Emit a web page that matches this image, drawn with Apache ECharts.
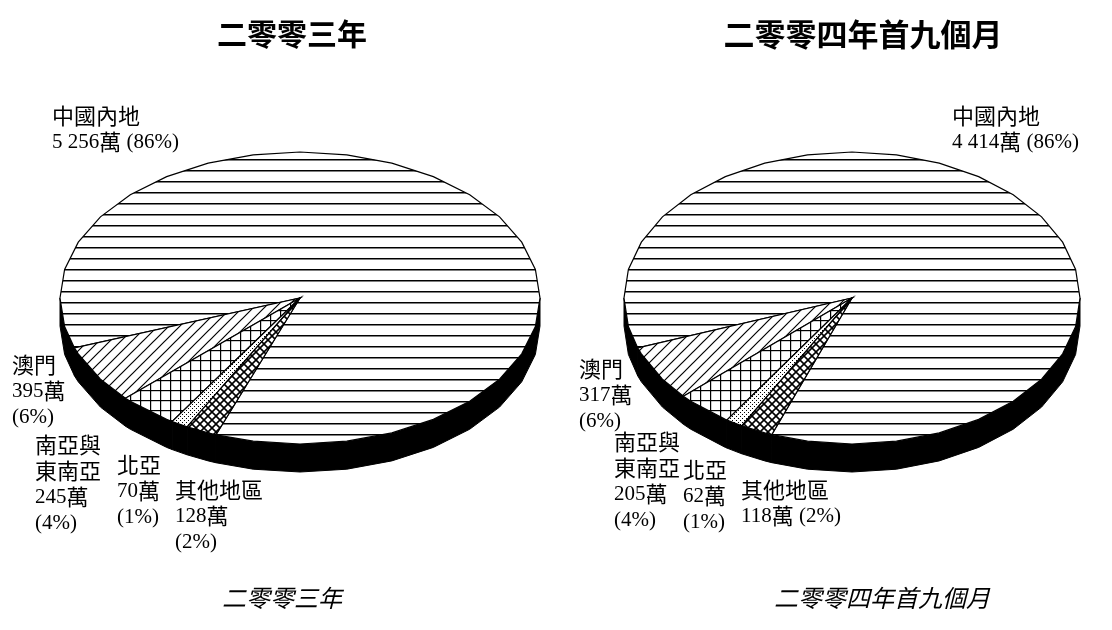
<!DOCTYPE html>
<html>
<head>
<meta charset="utf-8">
<script src="https://cdn.jsdelivr.net/npm/echarts@6/dist/echarts.min.js"></script>
<style>
  html, body { margin: 0; padding: 0; background: #fff; }
  #chart { width: 1112px; height: 630px; }
</style>
</head>
<body>
<div id="chart"></div>
<script>
// Visitor arrivals by source region (unit: 萬)
const regions = ['中國內地', '澳門', '南亞與東南亞', '北亞', '其他地區'];
const arrivals2003 = [5256, 395, 245, 70, 128];
const arrivals2004 = [4414, 317, 205, 62, 118];
const periodTitles = ['二零零三年', '二零零四年首九個月'];

// ---- layout ----
const CJK = '"Noto Sans CJK TC", "Noto Sans CJK SC", sans-serif';
const SERIF = '"Liberation Serif", "DejaVu Serif", serif';

const pieGeo = [
  { cx: 300, cy: 298, rx: 240, ry: 146, depth: 28, anchor: 160 },
  { cx: 852, cy: 298, rx: 228, ry: 146, depth: 28, anchor: 160 }
];

// label box per slice: top-left position, where the name wraps, whether the
// percentage shares the value line
const labelLayout = [
  [
    { x: 52, y: 103, wrap: 0, pctInline: true },
    { x: 12, y: 352, wrap: 0, pctInline: false },
    { x: 35, y: 432, wrap: 3, pctInline: false },
    { x: 117, y: 452, wrap: 0, pctInline: false },
    { x: 175, y: 477, wrap: 0, pctInline: false }
  ],
  [
    { x: 952, y: 103, wrap: 0, pctInline: true },
    { x: 579, y: 356, wrap: 0, pctInline: false },
    { x: 614, y: 429, wrap: 3, pctInline: false },
    { x: 683, y: 457, wrap: 0, pctInline: false },
    { x: 741, y: 477, wrap: 0, pctInline: true }
  ]
];

// ---- fill patterns ----
function tile(w, h, draw) {
  const c = document.createElement('canvas');
  c.width = w; c.height = h;
  const g = c.getContext('2d');
  g.fillStyle = '#fff';
  g.fillRect(0, 0, w, h);
  g.fillStyle = '#000';
  g.strokeStyle = '#000';
  draw(g, w, h);
  return c;
}
const patterns = [
  // horizontal rules
  tile(8, 11, (g, w) => { g.fillRect(0, 5, w, 1.5); }),
  // forward diagonal hatch
  tile(11, 11, (g, w, h) => {
    g.lineWidth = 1.2;
    g.beginPath();
    g.moveTo(0, h); g.lineTo(w, 0);
    g.moveTo(-2, 2); g.lineTo(2, -2);
    g.moveTo(w - 2, h + 2); g.lineTo(w + 2, h - 2);
    g.stroke();
  }),
  // square grid
  tile(10, 10, (g, w, h) => { g.fillRect(0, 0, w, 1.2); g.fillRect(0, 0, 1.2, h); }),
  // stipple
  tile(4, 4, (g) => { g.fillRect(0, 0, 1, 1); g.fillRect(2, 2, 1, 1); }),
  // diamond grid
  tile(8, 8, (g, w, h) => {
    g.lineWidth = 1.6;
    g.beginPath();
    g.moveTo(0, 0); g.lineTo(w, h);
    g.moveTo(w, 0); g.lineTo(0, h);
    g.stroke();
  })
].map(c => ({ image: c, repeat: 'repeat' }));

// ---- helpers ----
const fmt = v => String(v).replace(/\B(?=(\d{3})+(?!\d))/g, ' ');
const STEP = 11.25;

function arcPoints(geo, t1, t2, dy) {
  const p = t => {
    const r = t * Math.PI / 180;
    return [geo.cx + geo.rx * Math.cos(r), geo.cy + geo.ry * Math.sin(r) + dy];
  };
  const pts = [p(t1)];
  for (let k = Math.floor(t1 / STEP) + 1; k * STEP < t2 - 1e-6; k++) pts.push(p(k * STEP));
  pts.push(p(t2));
  return pts;
}

function labelText(name, value, total, lay) {
  const pct = Math.round(value / total * 100);
  const lines = [];
  if (lay.wrap) {
    lines.push('{c|' + name.slice(0, lay.wrap) + '}');
    lines.push('{c|' + name.slice(lay.wrap) + '}');
  } else {
    lines.push('{c|' + name + '}');
  }
  const valLine = '{n|' + fmt(value) + '}{c|萬}';
  if (lay.pctInline) {
    lines.push(valLine + '{n| (' + pct + '%)}');
  } else {
    lines.push(valLine);
    lines.push('{n|(' + pct + '%)}');
  }
  return lines.join('\n');
}

function pieSeries(values, geo, layout) {
  const total = values.reduce((a, b) => a + b, 0);
  // angular span of every slice, laid out counter-clockwise from the anchor
  const spans = [];
  let a = geo.anchor + values[0] / total * 360;
  values.forEach(v => {
    const w = v / total * 360;
    spans.push([a - w, a]);
    a -= w;
  });
  return {
    type: 'custom',
    coordinateSystem: 'none',
    silent: true,
    data: values,
    renderItem: function (params, api) {
      const i = params.dataIndex;
      const value = api.value(0);
      const [lo, hi] = spans[i];
      const children = [];

      // visible rim: parts of the arc on the front half of the disc
      for (let k = -1; k <= 2; k++) {
        const s = Math.max(lo, 360 * k), e = Math.min(hi, 360 * k + 180);
        if (e > s) {
          const top = arcPoints(geo, s, e, 0);
          const bottom = arcPoints(geo, s, e, geo.depth).reverse();
          children.push({
            type: 'polygon',
            shape: { points: top.concat(bottom) },
            style: { fill: '#000', stroke: '#000', lineWidth: 1 }
          });
        }
      }

      // top face
      children.push({
        type: 'polygon',
        shape: { points: [[geo.cx, geo.cy]].concat(arcPoints(geo, lo, hi, 0)) },
        style: { fill: patterns[i], stroke: '#000', lineWidth: 1.2, lineJoin: 'miter' }
      });

      const lay = layout[i];
      children.push({
        type: 'text',
        x: lay.x,
        y: lay.y,
        style: {
          text: labelText(regions[i], value, total, lay),
          fill: '#000',
          align: 'left',
          verticalAlign: 'top',
          rich: {
            c: { fontFamily: CJK, fontSize: 22, lineHeight: 26, fill: '#000' },
            n: { fontFamily: SERIF, fontSize: 21, lineHeight: 26, fill: '#000' }
          }
        }
      });
      return { type: 'group', children: children };
    },
    z: 2
  };
}

const chart = echarts.init(document.getElementById('chart'), null, { renderer: 'canvas' });
chart.setOption({
  backgroundColor: '#fff',
  animation: false,
  graphic: [
    { type: 'text', x: 292, y: 34, style: { text: periodTitles[0], font: 'bold 30px ' + CJK, fill: '#000', align: 'center', verticalAlign: 'middle', textAlign: 'center', textVerticalAlign: 'middle' } },
    { type: 'text', x: 863, y: 34, style: { text: periodTitles[1], font: 'bold 31px ' + CJK, fill: '#000', align: 'center', verticalAlign: 'middle', textAlign: 'center', textVerticalAlign: 'middle' } },
    { type: 'text', x: 282, y: 598, style: { text: periodTitles[0], font: 'italic 24px ' + CJK, fill: '#000', align: 'center', verticalAlign: 'middle', textAlign: 'center', textVerticalAlign: 'middle' } },
    { type: 'text', x: 882, y: 598, style: { text: periodTitles[1], font: 'italic 24px ' + CJK, fill: '#000', align: 'center', verticalAlign: 'middle', textAlign: 'center', textVerticalAlign: 'middle' } }
  ],
  series: [
    pieSeries(arrivals2003, pieGeo[0], labelLayout[0]),
    pieSeries(arrivals2004, pieGeo[1], labelLayout[1])
  ]
});
</script>
</body>
</html>
